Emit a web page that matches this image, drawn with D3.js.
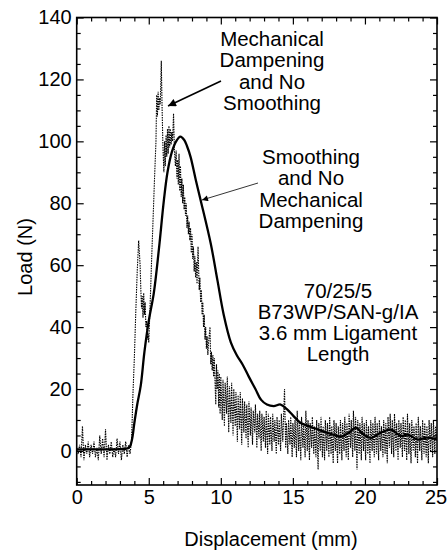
<!DOCTYPE html>
<html>
<head>
<meta charset="utf-8">
<script src="https://cdn.jsdelivr.net/npm/d3@7"></script>
<style>
  body { margin: 0; background: #fff; }
  text { font-family: "Liberation Sans", Arial, Helvetica, sans-serif; fill: #000; }
</style>
</head>
<body>
<div id="chart-area"></div>
<script>
const SVG_WIDTH = 447;
const SVG_HEIGHT = 555;
const margin = { left: 76.7, right: 10, top: 17.5, bottom: 70 };
const WIDTH = SVG_WIDTH - margin.left - margin.right;
const HEIGHT = SVG_HEIGHT - margin.top - margin.bottom;

// tick values
const xMajorTicks = [0, 5, 10, 15, 20, 25];
const yMajorTicks = [0, 20, 40, 60, 80, 100, 120, 140];

// smoothed curve (no mechanical dampening)
const smoothDisp = [0, 1, 2, 3, 3.5, 3.7, 3.85, 4.0, 4.2, 4.44, 4.7, 5.0, 5.35, 5.7, 6.05, 6.3, 6.6, 6.9, 7.2, 7.45, 7.65, 7.9, 8.26, 8.6, 9.3, 9.77, 10.2, 10.7, 11.1, 11.5, 11.94, 12.4, 12.8, 13.2, 13.67, 14.15, 14.6, 15.0, 15.5, 16.1, 16.7, 17.3, 17.8, 18.3, 18.9, 19.35, 19.9, 20.4, 21.1, 21.8, 22.5, 22.95, 23.65, 24.3, 25];
const smoothLoad = [0.5, 0.5, 0.5, 0.6, 0.8, 1.5, 4, 9, 15, 21, 32, 42, 51, 65, 81, 90, 96.5, 100, 101.5, 100.5, 98.5, 95, 87.6, 81, 67, 55, 44, 35, 31, 28, 24, 20, 16.5, 15, 14.5, 15, 13.4, 11.5, 9.2, 8, 7, 6, 5.3, 4.6, 5.9, 7.5, 5.3, 4.2, 5.9, 6.9, 4.8, 5.3, 3.7, 4.3, 3.7];

// raw trace (mechanical dampening, no smoothing)
const rawDisp = [
  0.0, 0.1, 0.2, 0.3, 0.4, 0.5, 0.6, 0.7, 0.8, 0.9, 1.0, 1.1, 1.2, 1.3, 1.4, 1.5, 1.6, 1.7, 1.8, 1.9,
  2.0, 2.1, 2.2, 2.3, 2.4, 2.5, 2.6, 2.7, 2.8, 2.9, 3.0, 3.1, 3.2, 3.3, 3.4, 3.5, 3.6, 3.7,
  3.8, 3.85, 3.9, 4.0, 4.1, 4.2, 4.3, 4.35, 4.4, 4.45, 4.5, 4.55, 4.6, 4.65, 4.7, 4.75, 4.8, 4.85, 4.9, 4.95, 5.0,
  5.1, 5.2, 5.3, 5.4, 5.5, 5.55, 5.6, 5.65, 5.7, 5.75, 5.8, 5.87, 5.92, 5.97, 6.0, 6.05, 6.1, 6.15, 6.2, 6.25,
  6.3, 6.35, 6.4, 6.45, 6.5, 6.55, 6.6, 6.65, 6.72, 6.78, 6.85, 6.9, 6.95, 7.0, 7.05, 7.1, 7.15, 7.2, 7.25,
  7.3, 7.35, 7.4, 7.45, 7.5, 7.55, 7.6, 7.65, 7.7, 7.75, 7.8, 7.85, 7.9, 7.95, 8.0, 8.05, 8.1, 8.15, 8.2,
  8.25, 8.3, 8.35, 8.42, 8.5, 8.55, 8.6, 8.65, 8.7, 8.75, 8.8, 8.85, 8.9, 8.95, 9.0, 9.05, 9.1, 9.15, 9.25,
  9.3, 9.35, 9.4, 9.45, 9.5, 9.55, 9.6, 9.65, 9.7, 9.75, 9.8, 9.85, 9.9, 9.95, 10.0, 10.1, 10.15, 10.25,
  10.3, 10.4, 10.45, 10.55, 10.6, 10.7, 10.75, 10.85, 10.9, 11.0, 11.05, 11.15, 11.2, 11.3, 11.35, 11.45,
  11.5, 11.6, 11.65, 11.75, 11.8, 11.9, 11.95, 12.05, 12.1, 12.2, 12.25, 12.35, 12.4, 12.5, 12.55, 12.65,
  12.7, 12.8, 12.85, 12.95, 13.0, 13.1, 13.15, 13.25, 13.3, 13.4, 13.45, 13.55, 13.6, 13.7, 13.75, 13.85,
  13.9, 14.0, 14.05, 14.15, 14.2, 14.3, 14.35, 14.42, 14.5, 14.55, 14.65, 14.7, 14.8, 14.85, 14.95, 15.0,
  15.1, 15.15, 15.25, 15.3, 15.4, 15.45, 15.55, 15.6, 15.7, 15.75, 15.85, 15.9, 16.0, 16.05, 16.15, 16.2,
  16.3, 16.35, 16.45, 16.5, 16.6, 16.65, 16.75, 16.8, 16.9, 16.95, 17.05, 17.1, 17.2, 17.25, 17.35, 17.4,
  17.5, 17.55, 17.65, 17.7, 17.8, 17.85, 17.95, 18.0, 18.1, 18.15, 18.25, 18.3, 18.4, 18.45, 18.55, 18.6,
  18.7, 18.75, 18.85, 18.9, 19.0, 19.05, 19.15, 19.2, 19.3, 19.35, 19.45, 19.5, 19.6, 19.65, 19.75, 19.8,
  19.9, 19.95, 20.05, 20.1, 20.2, 20.25, 20.35, 20.4, 20.5, 20.55, 20.65, 20.7, 20.8, 20.85, 20.95, 21.0,
  21.1, 21.15, 21.25, 21.3, 21.4, 21.45, 21.55, 21.6, 21.7, 21.75, 21.85, 21.9, 22.0, 22.05, 22.15, 22.2,
  22.3, 22.35, 22.45, 22.5, 22.6, 22.65, 22.75, 22.8, 22.9, 22.95, 23.05, 23.1, 23.2, 23.25, 23.35, 23.4,
  23.5, 23.55, 23.65, 23.7, 23.8, 23.85, 23.95, 24.0, 24.1, 24.15, 24.25, 24.3, 24.4, 24.45, 24.55, 24.6,
  24.7, 24.75, 24.85, 24.9, 25.0
];
const rawLoad = [
  1, -1, 2, -2, 8, -3, 2, -1, 3, -2, 2, -1, 3, -2, 1, -3, 5, -1, 4, -2,
  7, -3, 2, -1, 3, -2, 1, -2, 4, -1, 3, -3, 2, -1, 3, -2, 2, -1,
  3, 10, 18, 30, 45, 58, 68, 64, 60, 52, 46, 50, 43, 51, 44, 48, 40, 42, 36, 38, 35,
  48, 62, 75, 88, 100, 115, 108, 116, 110, 114, 112, 126, 112, 101, 96, 90, 100, 92, 102, 95,
  104, 96, 105, 98, 104, 99, 103, 100, 109, 97, 92, 97, 88, 94, 86, 96, 84, 92, 82,
  88, 80, 86, 78, 82, 76, 80, 72, 76, 70, 74, 68, 72, 64, 70, 62, 66, 58, 63,
  56, 61, 54, 66, 52, 56, 48, 52, 44, 48, 40, 44, 36, 40, 33, 37, 31, 35, 40,
  28, 32, 26, 31, 24, 30, 22, 15, 28, 20, 26, 14, 25, 12, 24, 10, 23, 8,
  22, 12, 24, 6, 21, 9, 22, 5, 20, 8, 19, 3, 18, 7, 19, 2,
  17, 6, 16, 4, 15, 1, 16, 5, 14, 2, 13, 6, 15, 1, 12, 4,
  13, 0, 12, 3, 11, 1, 13, -1, 12, 2, 11, 0, 12, 3, 10, -1,
  11, 2, 10, 0, 12, 3, 10, 20, 1, 9, -1, 10, 2, 11, -2, 9,
  1, 10, -2, 13, 0, 9, -3, 11, 1, 9, -2, 13, 0, 10, -3, 9,
  1, 11, -1, 8, -2, 10, -6, 9, 0, 11, -2, 8, -3, 10, 0, 9,
  -2, 11, -1, 8, -4, 10, 0, 9, -4, 8, -1, 10, -3, 9, 0, 11,
  -2, 9, -3, 12, 1, 10, -2, 13, 0, 11, -6, 10, -1, 9, -3, 11,
  0, 9, -3, 10, -1, 8, -4, 10, 0, 9, -2, 11, -1, 9, -3, 10,
  0, 8, -2, 10, -1, 9, -4, 11, 1, 12, -1, 10, -2, 12, 0, 9,
  -3, 10, 1, 9, -2, 11, 0, 10, -3, 12, -1, 9, -4, 10, 0, 8,
  -2, 9, -4, 11, 0, 8, -3, 10, -1, 9, -2, 8, -4, 10, 0, 9,
  -2, 10, -1, 8, 3
];

const svg = d3.select("#chart-area").append("svg")
  .attr("width", SVG_WIDTH).attr("height", SVG_HEIGHT)
  .style("background", "#fff");

const group = svg.append("g").attr("transform", `translate(${margin.left},${margin.top})`);

const x = d3.scaleLinear().domain([0, 25]).range([0, WIDTH]);
const y = d3.scaleLinear().domain([-11, 140]).range([HEIGHT, 0]);

const defs = svg.append("defs");
defs.append("clipPath").attr("id", "plot-clip")
  .append("rect").attr("width", WIDTH).attr("height", HEIGHT);

// markers for arrows
defs.append("marker").attr("id", "arrowBig")
  .attr("viewBox", "0 0 10 10").attr("refX", 10).attr("refY", 5)
  .attr("markerUnits", "userSpaceOnUse")
  .attr("markerWidth", 11).attr("markerHeight", 8).attr("orient", "auto")
  .append("path").attr("d", "M0,0 L10,5 L0,10 z").attr("fill", "#000");
defs.append("marker").attr("id", "arrowSmall")
  .attr("viewBox", "0 0 10 10").attr("refX", 10).attr("refY", 5)
  .attr("markerUnits", "userSpaceOnUse")
  .attr("markerWidth", 9).attr("markerHeight", 6).attr("orient", "auto")
  .append("path").attr("d", "M0,0 L10,5 L0,10 z").attr("fill", "#000");

// lines
const rawData = rawDisp.map((d, i) => ({ d: d, l: rawLoad[i] }));
const smoothData = smoothDisp.map((d, i) => ({ d: d, l: smoothLoad[i] }));

const plot = group.append("g").attr("clip-path", "url(#plot-clip)");

plot.append("path").datum(rawData)
  .attr("fill", "none").attr("stroke", "#000").attr("stroke-width", 1.1)
  .attr("stroke-dasharray", "1.5,1")
  .attr("d", d3.line().x(p => x(p.d)).y(p => y(p.l)));

plot.append("path").datum(smoothData)
  .attr("fill", "none").attr("stroke", "#000").attr("stroke-width", 2.3)
  .attr("d", d3.line().curve(d3.curveCatmullRom).x(p => x(p.d)).y(p => y(p.l)));

// axes, ticks point inward
const xMinor = d3.range(0, 26, 1).filter(v => v % 5 !== 0);
const yMinor = d3.range(-10, 141, 5).filter(v => v % 20 !== 0);

const xAxisCall = d3.axisBottom(x).tickValues(xMajorTicks).tickSize(-7).tickPadding(5).tickFormat(d3.format("d"));
const yAxisCall = d3.axisLeft(y).tickValues(yMajorTicks).tickSize(-7).tickPadding(5).tickFormat(d3.format("d"));

const xAxis = group.append("g").attr("class", "x axis")
  .attr("transform", `translate(0,${HEIGHT})`).call(xAxisCall);
xAxis.selectAll("text").attr("font-size", "20px");
// keep the last label inside the page edge
xAxis.selectAll(".tick").filter(d => d === 25).select("text").attr("dx", "-1.5");
group.append("g").attr("transform", `translate(0,${HEIGHT})`)
  .call(d3.axisBottom(x).tickValues(xMinor).tickSize(-4).tickFormat(""));

group.append("g").call(d3.axisTop(x).tickValues(xMajorTicks).tickSize(-7).tickFormat(""));
group.append("g").call(d3.axisTop(x).tickValues(xMinor).tickSize(-4).tickFormat(""));

const yAxis = group.append("g").attr("class", "y axis").call(yAxisCall);
yAxis.selectAll("text").attr("font-size", "20px");
group.append("g").call(d3.axisLeft(y).tickValues(yMinor).tickSize(-4).tickFormat(""));

group.append("g").attr("transform", `translate(${WIDTH},0)`)
  .call(d3.axisRight(y).tickValues(yMajorTicks).tickSize(-7).tickFormat(""));
group.append("g").attr("transform", `translate(${WIDTH},0)`)
  .call(d3.axisRight(y).tickValues(yMinor).tickSize(-4).tickFormat(""));

group.selectAll(".domain").remove();
group.selectAll(".tick line").attr("stroke", "#000").attr("stroke-width", 1.2);
group.selectAll(".tick text").attr("fill", "#000").style("font-family", "'Liberation Sans', Arial, sans-serif");

group.append("rect").attr("width", WIDTH).attr("height", HEIGHT)
  .attr("fill", "none").attr("stroke", "#000").attr("stroke-width", 1.6);

// axis titles
svg.append("text")
  .attr("x", 271).attr("y", 546)
  .attr("font-size", "20px").attr("text-anchor", "middle")
  .text("Displacement (mm)");

svg.append("text")
  .attr("transform", "translate(32,257) rotate(-90)")
  .attr("font-size", "20px").attr("text-anchor", "middle")
  .text("Load (N)");

// annotations
function block(lines, cx, y0, step) {
  const t = svg.append("text").attr("font-size", "20.5px").attr("text-anchor", "middle");
  lines.forEach((s, i) => {
    t.append("tspan").attr("x", cx).attr("y", y0 + i * step).text(s);
  });
}
block(["Mechanical", "Dampening", "and No", "Smoothing"], 272, 46, 21.3);
block(["Smoothing", "and No", "Mechanical", "Dampening"], 311, 164, 21.3);
block(["70/25/5", "B73WP/SAN-g/IA", "3.6 mm Ligament", "Length"], 338, 298, 21);

svg.append("line").attr("x1", 221).attr("y1", 81).attr("x2", 168).attr("y2", 106)
  .attr("stroke", "#000").attr("stroke-width", 1.6).attr("marker-end", "url(#arrowBig)");
svg.append("line").attr("x1", 258).attr("y1", 183).attr("x2", 202).attr("y2", 200)
  .attr("stroke", "#000").attr("stroke-width", 0.8).attr("marker-end", "url(#arrowSmall)");
</script>
</body>
</html>
